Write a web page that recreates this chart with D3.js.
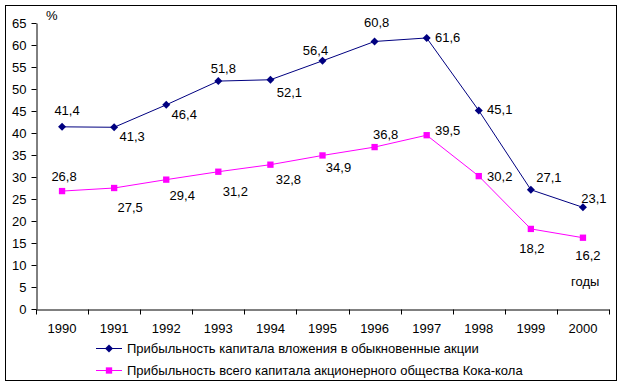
<!DOCTYPE html>
<meta charset="utf-8">
<style>
body { margin: 0; background: #fff; }
svg text { font-family: Arial, "Liberation Sans", sans-serif; font-size: 13px; fill: #000; }
.axis path, .axis line { stroke: #000; }
</style>
<svg width="624" height="386"></svg>
<script src="https://cdn.jsdelivr.net/npm/d3@7"></script>
<script>

var years = ["1990", "1991", "1992", "1993", "1994", "1995", "1996", "1997", "1998", "1999", "2000"];
var stockReturn = [41.4, 41.3, 46.4, 51.8, 52.1, 56.4, 60.8, 61.6, 45.1, 27.1, 23.1];
var capitalReturn = [26.8, 27.5, 29.4, 31.2, 32.8, 34.9, 36.8, 39.5, 30.2, 18.2, 16.2];
var yTicks = [0, 5, 10, 15, 20, 25, 30, 35, 40, 45, 50, 55, 60, 65];
var seriesNames = [
  "Прибыльность капитала вложения в обыкновенные акции",
  "Прибыльность всего капитала акционерного общества Кока-кола"
];

// label nudges (px) so labels sit where they do in the original
var stockLabelShift = [[5, -17], [18, 9], [18, 9], [5, -13], [19, 13], [-7, -11], [2, -19], [21, -1], [21, -1], [18, -12], [11, -9]];
var capitalLabelShift = [[2, -15], [16, 19], [16, 16], [17, 20], [18, 15], [16, 12], [11, -13], [21, -5], [21, 0], [1, 19], [5, 18]];

var svg = d3.select("svg");

svg.append("rect")
    .attr("x", 5.5).attr("y", 5.5)
    .attr("width", 611).attr("height", 375)
    .attr("fill", "#fff").attr("stroke", "#000");

var x = d3.scaleBand().domain(years).range([36, 609]);
var y = d3.scaleLinear().domain([0, 65]).range([309, 23]);

var cx = function(d, i) { return x(years[i]) + x.bandwidth() / 2; };

// y axis
svg.append("g")
    .attr("class", "axis")
    .attr("transform", "translate(36.5,0)")
    .call(d3.axisLeft(y).tickValues(yTicks).tickSize(5).tickPadding(5).tickSizeOuter(0))
    .call(function(g) { g.selectAll("text").style("font-size", "13px").attr("font-family", null); });

// x axis, ticks sit between the years
var xAxis = svg.append("g")
    .attr("class", "axis")
    .attr("transform", "translate(0,309.5)")
    .call(d3.axisBottom(x).tickSize(0).tickPadding(14).tickSizeOuter(0));
xAxis.selectAll("text").style("font-size", "13px").attr("font-family", null);
xAxis.selectAll(".edge")
    .data(years.concat(["end"]))
  .enter().append("line")
    .attr("x1", function(d) { return Math.round(d === "end" ? x.range()[1] : x(d)) + 0.5; })
    .attr("x2", function(d) { return Math.round(d === "end" ? x.range()[1] : x(d)) + 0.5; })
    .attr("y1", 0).attr("y2", 5);

var line = d3.line()
    .x(cx)
    .y(function(d) { return y(d); });

var diamond = function() { return "M0,-4L4,0L0,4L-4,0Z"; };
var square = d3.symbol().type(d3.symbolSquare).size(40);

function drawSeries(values, color, symbol, shifts) {
  svg.append("path")
      .datum(values)
      .attr("fill", "none")
      .attr("stroke", color)
      .attr("stroke-width", 1)
      .attr("d", line);

  svg.selectAll(null)
      .data(values)
    .enter().append("path")
      .attr("d", symbol)
      .attr("fill", color)
      .attr("transform", function(d, i) { return "translate(" + cx(d, i) + "," + y(d) + ")"; });

  svg.selectAll(null)
      .data(values)
    .enter().append("text")
      .attr("text-anchor", "middle")
      .attr("dy", "0.36em")
      .attr("x", function(d, i) { return cx(d, i) + shifts[i][0]; })
      .attr("y", function(d, i) { return y(d) + shifts[i][1]; })
      .text(function(d) { return String(d).replace(".", ","); });
}

drawSeries(stockReturn, "#000080", diamond, stockLabelShift);
drawSeries(capitalReturn, "#ff00ff", square, capitalLabelShift);

svg.append("text").attr("x", 46).attr("y", 20).text("%");
svg.append("text").attr("x", 571).attr("y", 286).text("годы");

// legend
var legend = svg.selectAll(".legend")
    .data([{name: seriesNames[0], color: "#000080", symbol: diamond},
           {name: seriesNames[1], color: "#ff00ff", symbol: square}])
  .enter().append("g")
    .attr("transform", function(d, i) { return "translate(96," + (348 + i * 22) + ")"; });

legend.append("line")
    .attr("x1", 0).attr("x2", 26)
    .attr("y1", 0.5).attr("y2", 0.5)
    .attr("stroke", function(d) { return d.color; });

legend.append("path")
    .attr("d", function(d) { return d.symbol(); })
    .attr("fill", function(d) { return d.color; })
    .attr("transform", "translate(13,0.5)");

legend.append("text")
    .attr("x", 31)
    .attr("dy", "0.36em")
    .text(function(d) { return d.name; });

</script>
